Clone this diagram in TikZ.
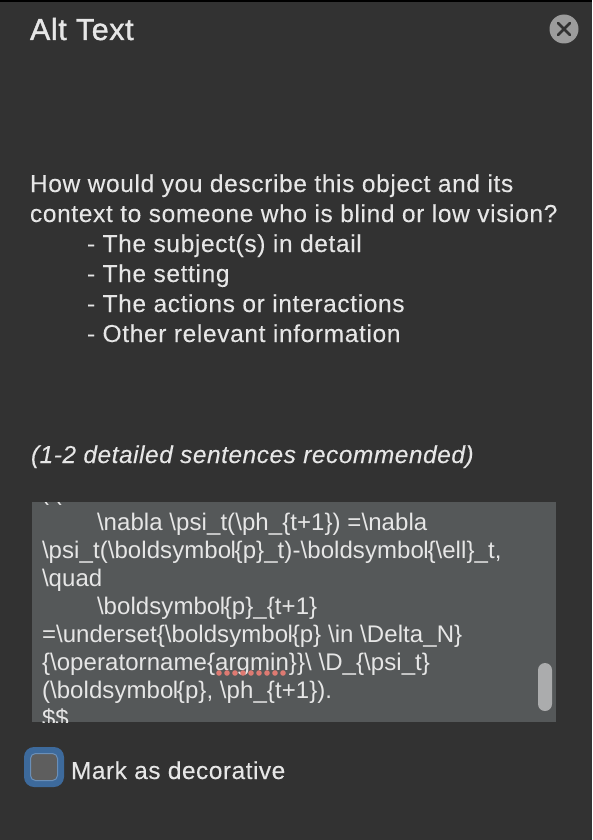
\documentclass[tikz,border=0pt]{standalone}
\usepackage{fontspec}
\setmainfont{Liberation Sans}
\definecolor{bgc}{HTML}{323232}
\definecolor{boxc}{HTML}{555859}
\definecolor{txtc}{HTML}{E6E6E6}
\definecolor{closec}{HTML}{9C9C9C}
\definecolor{xc}{HTML}{323232}
\definecolor{barc}{HTML}{ABACAD}
\definecolor{focusc}{HTML}{3D6A9C}
\definecolor{focusi}{HTML}{6A8FB8}
\definecolor{chkc}{HTML}{5E5E5E}
\definecolor{squig}{HTML}{DE7A72}
\newcommand{\bsy}{\textbackslash boldsymbo\kern-.6pt l\kern-1.2pt}
\tikzset{
  x=1pt,y=-1pt,
  lab/.style={anchor=base west,inner sep=0pt,outer sep=0pt,text=txtc,font=\fontsize{24.5}{24.5}\selectfont\addfontfeatures{LetterSpace=2.6,FakeBold=0.15}},
  markl/.style={lab,font=\fontsize{24.5}{24.5}\selectfont\addfontfeatures{LetterSpace=2.0,FakeBold=0.15}},
  title/.style={lab,font=\fontsize{30.5}{30.5}\selectfont\addfontfeatures{LetterSpace=2.0,FakeBold=1.2}},
  ital/.style={lab,font=\fontsize{24.5}{24.5}\selectfont\itshape\addfontfeatures{LetterSpace=2.1,FakeBold=0.15}},
  code/.style={lab,font=\fontsize{24}{24}\selectfont\addfontfeatures{LetterSpace=0.3}},
}
\begin{document}
\begin{tikzpicture}
\useasboundingbox (0,0) rectangle (592,840);
\fill[bgc] (0,0) rectangle (592,840);
\fill[black] (0,0) rectangle (592,2);
\node[title] (t) at (30,40) {Alt Text};
\fill[closec] (564,29) circle (14.5);
\draw[xc,line width=2.6pt,line cap=round] (558,23) -- (570,35) (570,23) -- (558,35);
\node[lab] (a1) at (30,192) {How would you describe this object and its};
\node[lab] (a2) at (30,222) {context to someone who is blind or low vision?};
\node[lab] (a3) at (87,252) {- The subject(s) in detail};
\node[lab] (a4) at (87,282) {- The setting};
\node[lab] (a5) at (87,312) {- The actions or interactions};
\node[lab] (a6) at (87,342) {- Other relevant information};
\node[ital] (a7) at (31,463) {(1-2 detailed sentences recommended)};
\fill[boxc] (32,502) rectangle (556,722);
\begin{scope}
\clip (32,502) rectangle (556,722);
\node[code] (c0) at (41,500) {(\kern5pt(};
\node[code] (c1) at (97,530) {\textbackslash nabla \textbackslash psi\_t(\textbackslash ph\_\{t+1\}) =\textbackslash nabla};
\node[code] (c2) at (42,558) {\textbackslash psi\_t(\bsy\{p\}\_t)-\bsy\{\textbackslash ell\}\_t,};
\node[code] (c3) at (42,586) {\textbackslash quad};
\node[code] (c4) at (97,614) {\bsy\{p\}\_\{t+1\}};
\node[code] (c5) at (42,642) {=\textbackslash underset\{\bsy\{p\} \textbackslash in \textbackslash Delta\_N\}};
\node[code] (c6) at (42,670) {\{\textbackslash operatorname\{argmin\}\}\textbackslash\ \textbackslash D\_\{\textbackslash psi\_t\}};
\node[code] (c7) at (42,698) {(\bsy\{p\}, \textbackslash ph\_\{t+1\}).};
\node[code] (c8) at (42,726) {\$\$};
\end{scope}
\foreach \i in {0,...,8} \fill[squig] (219+\i*8,673) circle (2.8);
\fill[barc,rounded corners=7pt] (538,663) rectangle (552,711);
\fill[focusc,rounded corners=10pt] (24,747) rectangle (64,787);
\draw[focusi,fill=chkc,line width=1pt,rounded corners=5pt] (30.5,753.5) rectangle (57.5,780.5);
\node[markl] (m) at (71,779) {Mark as decorative};
\end{tikzpicture}
\end{document}
